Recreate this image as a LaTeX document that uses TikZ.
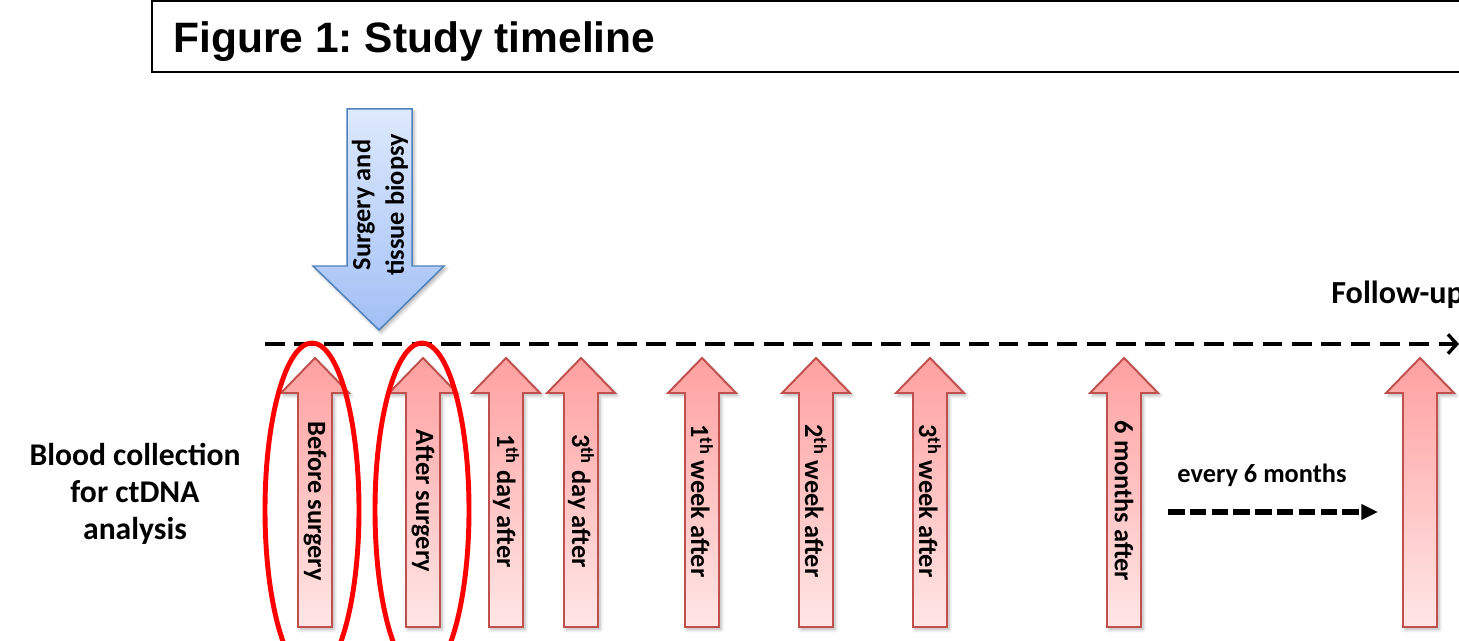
\documentclass[tikz,border=0pt]{standalone}
\usepackage{fontspec}
\setmainfont{Carlito}
\newfontfamily\titlefont{Liberation Sans}
\usepackage{xcolor}
\usetikzlibrary{arrows.meta,shadows.blur}
\frenchspacing

\definecolor{bloodedge}{HTML}{C0504D}
\definecolor{bloodtop}{HTML}{FFA0A0}
\definecolor{bloodbottom}{HTML}{FFE6E6}
\definecolor{surgeryedge}{HTML}{4F81BD}
\definecolor{surgerytop}{HTML}{DDE9FC}
\definecolor{surgerybottom}{HTML}{A2C0F6}

\begin{document}
\begin{tikzpicture}[
    x=0.02cm,
    y=-0.02cm,
    >=Stealth,
    line join=miter,
    font=\bfseries,
    softshadow/.style={blur shadow={shadow xshift=1.2pt, shadow yshift=-1.5pt, shadow blur steps=6, shadow opacity=30}},
    bloodarrow/.style={draw=bloodedge, line width=1.1pt, top color=bloodtop, bottom color=bloodbottom, softshadow},
    surgeryarrow/.style={draw=surgeryedge, line width=0.85pt, top color=surgerytop, bottom color=surgerybottom, softshadow},
    ring/.style={draw=red, line width=2.8pt},
    timeline/.style={draw=black, line width=1.9pt, dash pattern=on 11.3pt off 5.4pt, -{Straight Barb[length=5pt,width=11pt]}},
    repeatline/.style={draw=black, line width=3.2pt, dash pattern=on 9.4pt off 3pt, -{Triangle[length=9.5pt,width=8.5pt]}},
    armtext/.style={font=\bfseries\fontsize{15}{19}\selectfont, inner sep=0pt},
  ]

  \def\tipY{358}
  \def\neckY{393}
  \def\baseY{627}
  \def\shaftW{17}
  \def\headW{34}
  \def\labelY{501}

  % Page frame
  \useasboundingbox (0,0) rectangle (1459,641);
  \clip (0,0) rectangle (1459,641);

  % Title frame (runs past the right edge)
  \draw[line width=0.85pt] (152,1) rectangle (1480,72);
  \node[anchor=base west, inner sep=0pt, font=\titlefont\bfseries\fontsize{24.2}{28}\selectfont] (title) at (173,53) {Figure 1: Study timeline};

  % Row label
  \node[align=center, font=\bfseries\fontsize{18}{21}\selectfont] (blood) at (135,494) {Blood collection\\for ctDNA\\analysis};

  % Surgery arrow
  \path[surgeryarrow] (347,109) -- (412,109) -- (412,266) -- (444,266) -- (379,330) -- (313,266) -- (347,266) -- cycle;
  \node[armtext, rotate=90, align=center] (surgery) at (380,205) {Surgery and\\tissue biopsy};

  % Time axis
  \coordinate (axisstart) at (265,344);
  \coordinate (axisend) at (1459,344);
  \draw[timeline] (axisstart) -- (axisend);
  \node[anchor=base west, inner sep=0pt, font=\bfseries\fontsize{18.3}{22}\selectfont] (followup) at (1331,304) {Follow-up};

  % Blood sampling arrows
  \foreach \x/\nm/\txt in {315/before/Before surgery, 423/after/After surgery, 506/dayone/{1\textsuperscript{th} day after}, 581/daythree/{3\textsuperscript{th} day after}, 702/weekone/{1\textsuperscript{th} week after}, 816/weektwo/{2\textsuperscript{th} week after}, 930/weekthree/{3\textsuperscript{th} week after}, 1124/monthsix/6 months after, 1420/later/{}} {
    \path[bloodarrow] (\x-\shaftW,\baseY) -- (\x-\shaftW,\neckY) -- (\x-\headW,\neckY) -- (\x,\tipY) -- (\x+\headW,\neckY) -- (\x+\shaftW,\neckY) -- (\x+\shaftW,\baseY) -- cycle;
    \node[armtext, rotate=-90] (\nm) at (\x,\labelY) {\txt};
  }

  % Highlight rings
  \draw[ring] (312,510) ellipse [x radius=47, y radius=167];
  \draw[ring] (422,510) ellipse [x radius=47, y radius=167];

  % Repeat marker
  \node[anchor=base, inner sep=0pt, font=\bfseries\fontsize{15}{18}\selectfont] (every) at (1262,482) {every 6 months};
  \coordinate (repeatstart) at (1168,512);
  \coordinate (repeatend) at (1378,512);
  \draw[repeatline] (repeatstart) -- (repeatend);
\end{tikzpicture}
\end{document}
